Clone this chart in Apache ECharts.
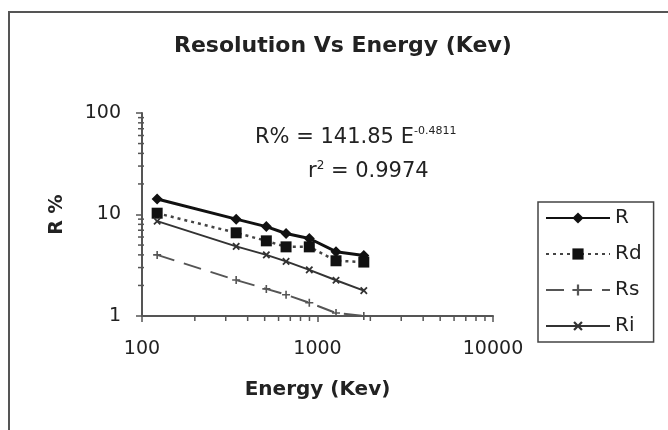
<!DOCTYPE html>
<html>
<head>
<meta charset="utf-8">
<title>Resolution Vs Energy</title>
<script src="https://cdn.jsdelivr.net/npm/echarts@6/dist/echarts.min.js"></script>
<style>
  html, body { margin: 0; padding: 0; background: #fff; }
  #chart { width: 668px; height: 430px; }
</style>
</head>
<body>
<div id="chart"></div>
<script>
// gamma line energies (keV) and resolution values (%)
const energy = [122, 344, 511, 662, 898, 1275, 1836]
const R = [14.2, 9.0, 7.6, 6.5, 5.8, 4.3, 3.95]
const Rd = [10.3, 6.6, 5.5, 4.8, 4.8, 3.5, 3.4]
const Rs = [4.0, 2.26, 1.85, 1.62, 1.35, 1.07, 1.0]
const Ri = [8.6, 4.85, 4.0, 3.45, 2.85, 2.25, 1.78]

// log axis minor tick values
const xMinor = [200, 300, 400, 500, 600, 700, 800, 900, 2000, 3000, 4000, 5000, 6000, 7000, 8000, 9000]
const yMinor = [2, 3, 4, 5, 6, 7, 8, 9, 20, 30, 40, 50, 60, 70, 80, 90]

const plus = 'path://M4,0H6V4H10V6H6V10H4V6H0V4H4Z'
const ink = '#222'

function pairs(ys) {
  return energy.map((x, i) => [x, ys[i]])
}

let myChart = echarts.init(document.getElementById('chart'), null, { renderer: 'canvas' })

myChart.setOption({
  animation: false,
  backgroundColor: '#fff',
  title: {
    text: 'Resolution Vs Energy (Kev)',
    left: 174,
    top: 35,
    padding: 0,
    textStyle: { fontFamily: 'DejaVu Sans', fontWeight: 'bold', fontSize: 22, color: ink }
  },
  legend: {
    orient: 'vertical',
    left: 538,
    top: 202,
    padding: [6, 12, 6, 7],
    itemGap: 16,
    itemWidth: 64,
    itemHeight: 14,
    borderColor: '#444',
    borderWidth: 1.5,
    data: ['R', 'Rd', 'Rs', 'Ri'],
    textStyle: { fontFamily: 'DejaVu Sans', fontSize: 20, color: ink }
  },
  grid: { left: 142, top: 113, width: 351, height: 203 },
  xAxis: {
    type: 'log',
    logBase: 10,
    min: 100,
    max: 10000,
    name: 'Energy (Kev)',
    nameLocation: 'middle',
    nameGap: 64,
    nameTextStyle: { fontFamily: 'DejaVu Sans', fontWeight: 'bold', fontSize: 20, color: ink },
    axisLine: { lineStyle: { color: '#555', width: 2 } },
    axisTick: { length: 6, lineStyle: { color: '#555', width: 1.5 } },
    axisLabel: {
      margin: 24,
      fontFamily: 'DejaVu Sans',
      fontSize: 19,
      color: ink,
      formatter: v => String(Math.round(v))
    },
    splitLine: { show: false }
  },
  yAxis: {
    type: 'log',
    logBase: 10,
    min: 1,
    max: 100,
    name: 'R %',
    nameLocation: 'middle',
    nameGap: 75,
    nameTextStyle: { fontFamily: 'DejaVu Sans', fontWeight: 'bold', fontSize: 19, color: ink },
    axisLine: { show: true, lineStyle: { color: '#555', width: 2 } },
    axisTick: { show: true, length: 6, lineStyle: { color: '#555', width: 1.5 } },
    axisLabel: {
      margin: 21,
      fontFamily: 'DejaVu Sans',
      fontSize: 19,
      color: ink,
      formatter: v => String(Math.round(v))
    },
    splitLine: { show: false }
  },
  graphic: [
    {
      type: 'rect',
      z: -1,
      shape: { x: 9, y: 12, width: 700, height: 460 },
      style: { fill: 'none', stroke: '#555', lineWidth: 2 }
    },
    {
      type: 'text',
      left: 255,
      top: 126,
      style: {
        text: '{n|R% = 141.85 E}{s|-0.4811}',
        fill: ink,
        rich: {
          n: { fontFamily: 'DejaVu Sans', fontSize: 21, fill: ink, lineHeight: 24 },
          s: { fontFamily: 'DejaVu Sans', fontSize: 11, fill: ink, verticalAlign: 'top', lineHeight: 12 }
        }
      }
    },
    {
      type: 'text',
      left: 308,
      top: 160,
      style: {
        text: '{n|r}{s|2}{n| = 0.9974}',
        fill: ink,
        rich: {
          n: { fontFamily: 'DejaVu Sans', fontSize: 21, fill: ink, lineHeight: 24 },
          s: { fontFamily: 'DejaVu Sans', fontSize: 12, fill: ink, verticalAlign: 'top', lineHeight: 12 }
        }
      }
    }
  ],
  series: [
    {
      name: 'R',
      type: 'line',
      data: pairs(R),
      symbol: 'diamond',
      symbolSize: 11,
      itemStyle: { color: '#111' },
      lineStyle: { color: '#111', width: 3 }
    },
    {
      name: 'Rd',
      type: 'line',
      data: pairs(Rd),
      symbol: 'rect',
      symbolSize: 11,
      itemStyle: { color: '#111' },
      lineStyle: { color: '#444', width: 2.5, type: [3, 4] }
    },
    {
      name: 'Rs',
      type: 'line',
      data: pairs(Rs),
      symbol: plus,
      symbolSize: 8,
      itemStyle: { color: '#555' },
      lineStyle: { color: '#555', width: 2, type: [18, 10] }
    },
    {
      name: 'Ri',
      type: 'line',
      data: pairs(Ri),
      symbol: plus,
      symbolRotate: 45,
      symbolSize: 9,
      itemStyle: { color: '#333' },
      lineStyle: { color: '#333', width: 2 }
    },
    {
      name: 'xMinorTicks',
      type: 'custom',
      silent: true,
      data: xMinor.map(v => [v, 1]),
      renderItem: function (params, api) {
        let p = api.coord([api.value(0), 1])
        return {
          type: 'line',
          shape: { x1: p[0], y1: p[1], x2: p[0], y2: p[1] + 5 },
          style: { stroke: '#555', lineWidth: 1.5 }
        }
      }
    },
    {
      name: 'yMinorTicks',
      type: 'custom',
      silent: true,
      data: yMinor.map(v => [100, v]),
      renderItem: function (params, api) {
        let p = api.coord([100, api.value(1)])
        return {
          type: 'line',
          shape: { x1: p[0] - 4, y1: p[1], x2: p[0] + 2, y2: p[1] },
          style: { stroke: '#555', lineWidth: 1.5 }
        }
      }
    }
  ]
})
</script>
</body>
</html>
